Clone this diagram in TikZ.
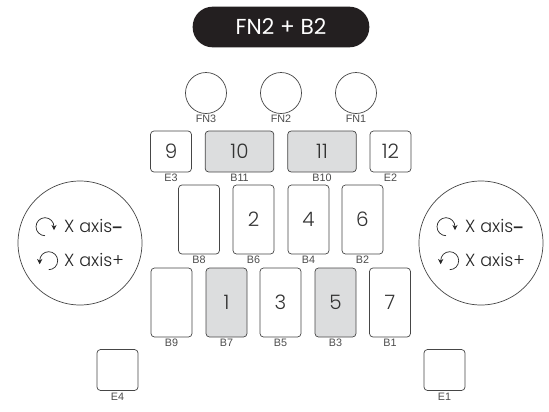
\documentclass[tikz,border=0pt]{standalone}
\usepackage{fontspec}
\setmainfont{Liberation Sans}
\newfontfamily\keyfont{Poppins Light}
\newfontfamily\pillfont{Poppins}
\usetikzlibrary{arrows.meta}
\definecolor{keyline}{RGB}{70,70,70}
\definecolor{keygray}{RGB}{220,221,222}
\definecolor{pillblack}{RGB}{35,31,32}
\begin{document}
\begin{tikzpicture}[x=0.03cm,y=-0.03cm,font=\fontsize{9.2pt}{10pt}\selectfont,
            key/.style={rectangle,draw=keyline,fill=white,line width=0.6pt,
                        rounded corners=3pt,minimum width=1.23cm,
                        minimum height=2.07cm,inner sep=0pt,text=black!80,
                        font=\keyfont\fontsize{17pt}{18pt}\selectfont},
            side/.style={key,minimum height=1.23cm},
            wide/.style={key,minimum height=1.23cm,minimum width=2.06cm,fill=keygray},
            on/.style={fill=keygray},
            fnkey/.style={circle,draw=keyline,fill=white,line width=0.6pt,
                          minimum size=1.23cm,inner sep=0pt},
            knob/.style={circle,draw=keyline,line width=0.6pt,
                         minimum size=3.72cm,inner sep=0pt},
            tag/.style={inner sep=0pt,text=black!70},
            axis/.style={inner sep=0pt,anchor=west,text=black!85,
                         font=\keyfont\fontsize{15pt}{16pt}\selectfont},
            turn/.style={-{Stealth[length=4.5pt,width=4.5pt]},black!85,line width=0.6pt}]
            \useasboundingbox (0,0) rectangle (549,411);
            \node[rectangle,fill=pillblack,rounded corners=0.6cm,minimum width=5.3cm,
                  minimum height=1.22cm,inner sep=0pt,text=white,
                  font=\pillfont\fontsize{18.5pt}{20pt}\selectfont]
                       (title) at (281,27) {FN2 + B2};
            % top circles
            \node[fnkey] (fn3) at (206,93) {};
            \node[fnkey] (fn2) at (281,93) {};
            \node[fnkey] (fn1) at (356,93) {};
            \node[tag] (tfn3) at (206,119) {FN3};
            \node[tag] (tfn2) at (281,119) {FN2};
            \node[tag] (tfn1) at (356,119) {FN1};
            % first row
            \node[side] (e3)  at (171,151.5) {9};
            \node[wide] (b11) at (239.5,151.5) {10};
            \node[wide] (b10) at (322,151.5) {11};
            \node[side] (e2)  at (390.5,151.5) {12};
            \node[tag] (te3)  at (171,178) {E3};
            \node[tag] (tb11) at (239.5,178) {B11};
            \node[tag] (tb10) at (322,178) {B10};
            \node[tag] (te2)  at (390.5,178) {E2};
            % second row
            \node[key] (b8) at (199,219.5) {};
            \node[key] (b6) at (253.5,219.5) {2};
            \node[key] (b4) at (308.5,219.5) {4};
            \node[key] (b2) at (362.5,219.5) {6};
            \node[tag] (tb8) at (199,260) {B8};
            \node[tag] (tb6) at (253.5,260) {B6};
            \node[tag] (tb4) at (308.5,260) {B4};
            \node[tag] (tb2) at (362.5,260) {B2};
            % third row
            \node[key] (b9)    at (171.5,302.5) {};
            \node[key,on] (b7) at (226.5,302.5) {1};
            \node[key] (b5)    at (280.5,302.5) {3};
            \node[key,on] (b3) at (335.5,302.5) {5};
            \node[key] (b1)    at (390,302.5) {7};
            \node[tag] (tb9) at (171.5,343) {B9};
            \node[tag] (tb7) at (226.5,343) {B7};
            \node[tag] (tb5) at (280.5,343) {B5};
            \node[tag] (tb3) at (335.5,343) {B3};
            \node[tag] (tb1) at (390,343) {B1};
            % bottom keys
            \node[side] (e4) at (117.5,370) {};
            \node[side] (e1) at (444.5,370) {};
            \node[tag] (te4) at (117.5,397) {E4};
            \node[tag] (te1) at (444.5,397) {E1};
            % dials
            \foreach \dx/\dn in {80/left,481/right}{
                \node[knob] (\dn) at (\dx,243) {};
                \node[axis] (\dn minus) at (\dx-16,226) {X axis{\bfseries\rmfamily –}};
                \node[axis] (\dn plus)  at (\dx-16,260) {X axis+};
                \draw[turn] (\dx-35,235.7) arc[start angle=90,end angle=360,radius=9]
                            -- ++(0,3.5);
                \draw[turn] (\dx-31.3,269.7) arc[start angle=90,end angle=-180,radius=9]
                            -- ++(0,3.5);
            }
        \end{tikzpicture}
\end{document}
